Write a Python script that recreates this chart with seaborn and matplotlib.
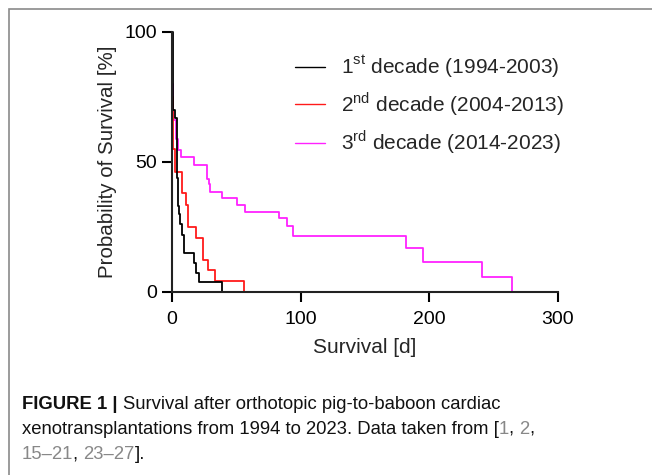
import numpy as np
import pandas as pd
import matplotlib
matplotlib.use("Agg")
import matplotlib.pyplot as plt
import matplotlib.patches as mpatches
from matplotlib.lines import Line2D
import seaborn as sns

# Kaplan-Meier steps (days, survival %)
first_t = [0, 0.5, 2.3, 3.6, 4.2, 4.6, 5.4, 6.2, 7.8, 9.5, 16.9, 18.5, 21.0, 38.6]
first_s = [100, 70, 67, 56, 44, 33, 30, 26, 22, 15, 11, 7.4, 3.7, 0]

second_t = [0, 0.3, 1.0, 2.2, 8.0, 10.5, 12.7, 19.0, 24.3, 28.0, 33.4, 56.2]
second_s = [100, 75, 55, 46, 38, 33.5, 25, 20.8, 12.5, 8.3, 4.2, 0]

third_t = [0, 0.3, 1.0, 3.0, 4.4, 7.0, 17.0, 27.0, 28.5, 29.5, 39.2, 50.3, 56.7,
           83.4, 89.0, 94.0, 182.0, 195.0, 240.7, 264.0]
third_s = [100, 80, 66, 59, 54.6, 51.8, 48.8, 43.5, 41.5, 38.6, 36.0, 33.5, 30.8,
           28.3, 25.4, 21.6, 17.0, 11.4, 5.8, 0]

labels = [r"1$^{\mathrm{st}}$ decade (1994-2003)",
          r"2$^{\mathrm{nd}}$ decade (2004-2013)",
          r"3$^{\mathrm{rd}}$ decade (2014-2023)"]
colors = ["#000000", "#ff1a1a", "#ff22ff"]

x_ticks = [0, 100, 200, 300]
y_ticks = [0, 50, 100]

df = pd.concat([
    pd.DataFrame({"t": first_t, "s": first_s, "grp": "1st"}),
    pd.DataFrame({"t": second_t, "s": second_s, "grp": "2nd"}),
    pd.DataFrame({"t": third_t, "s": third_s, "grp": "3rd"}),
], ignore_index=True)

sns.set_style("ticks")
plt.rcParams["font.family"] = ["Liberation Sans", "DejaVu Sans"]
plt.rcParams["mathtext.fontset"] = "custom"
plt.rcParams["mathtext.rm"] = "Liberation Sans"

W, H = 652, 475
fig = plt.figure(figsize=(W / 100, H / 100), dpi=100)
ax = fig.add_axes([172 / W, 1 - 292 / H, (558 - 172) / W, (292 - 32) / H])

# draw 3rd first so black ends up on top
sns.lineplot(data=df, x="t", y="s", hue="grp", hue_order=["3rd", "2nd", "1st"],
             palette={"1st": colors[0], "2nd": colors[1], "3rd": colors[2]},
             estimator=None, sort=False, drawstyle="steps-post",
             linewidth=1.3, legend=False, ax=ax, clip_on=False)

ax.set_xlim(0, 300)
ax.set_ylim(0, 100)
ax.set_xticks(x_ticks)
ax.set_yticks(y_ticks)
ax.tick_params(direction="out", length=7, width=1.5, labelsize=14, colors="black")
ax.tick_params(axis="x", pad=7)
ax.tick_params(axis="y", pad=4)
for side in ["top", "right"]:
    ax.spines[side].set_visible(False)
for side in ["left", "bottom"]:
    ax.spines[side].set_linewidth(1.5)
    ax.spines[side].set_color("#222222")
ax.set_xlabel("Survival [d]", fontsize=15, labelpad=7)
ax.set_ylabel("Probability of Survival [%]", fontsize=14.8, labelpad=5)

handles = [Line2D([0], [0], color=c, lw=1.0) for c in colors]
ax.legend(handles, labels, loc="upper left", bbox_to_anchor=(0.282, 0.973),
          frameon=False, fontsize=15, handlelength=1.4, handletextpad=0.8,
          labelspacing=0.5, borderaxespad=0.3)

# outer frame (cut off at right/bottom like the original)
fig.patches.append(mpatches.Rectangle((9 / W, -0.1), 1.2, 1 - 9 / H + 0.1,
                                      transform=fig.transFigure, fill=False,
                                      edgecolor="#8a8a8a", lw=1.2))

# caption with grey citation numbers
cap_lines = [
    [("FIGURE 1 | ", "bold", "#111111"),
     ("Survival after orthotopic pig-to-baboon cardiac", "normal", "#111111")],
    [("xenotransplantations from 1994 to 2023. Data taken from [", "normal", "#111111"),
     ("1", "normal", "#888888"), (", ", "normal", "#111111"),
     ("2", "normal", "#888888"), (",", "normal", "#111111")],
    [("15–21", "normal", "#888888"), (", ", "normal", "#111111"),
     ("23–27", "normal", "#888888"), ("].", "normal", "#111111")],
]
renderer = fig.canvas.get_renderer()
base_y = [409, 434, 459]
for line, yb in zip(cap_lines, base_y):
    xpos = 22
    for txt, weight, col in line:
        t = fig.text(xpos / W, 1 - yb / H, txt, fontsize=13.35, fontweight=weight,
                     color=col, va="baseline", ha="left")
        xpos += t.get_window_extent(renderer).width

fig.savefig("out.png", dpi=100)
